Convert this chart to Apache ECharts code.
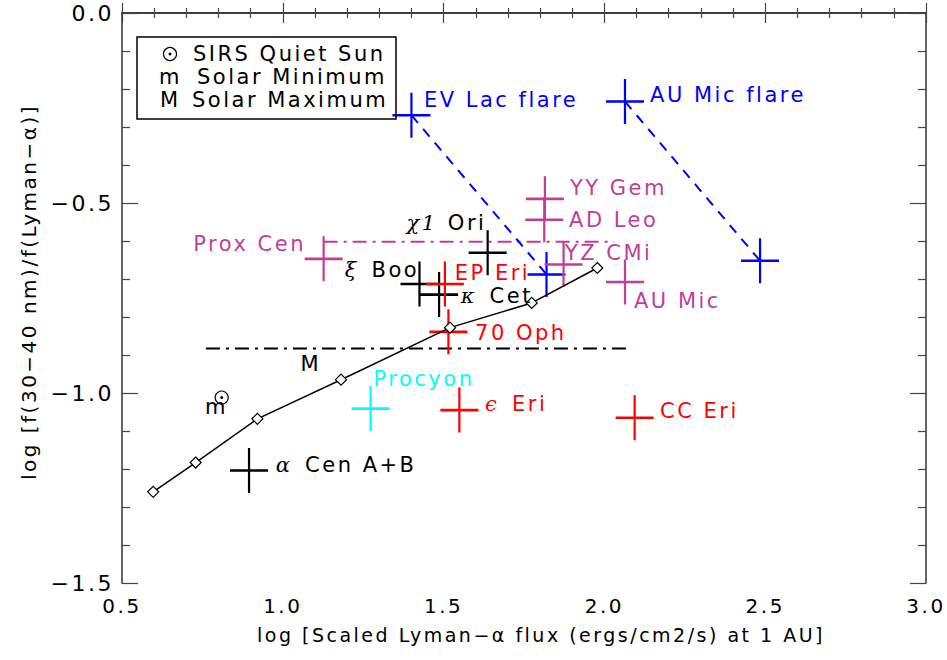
<!DOCTYPE html>
<html><head><meta charset="utf-8">
<script src="https://cdn.jsdelivr.net/npm/echarts@6/dist/echarts.min.js"></script>
<style>
html,body{margin:0;padding:0;background:#fff;}
#c{width:947px;height:660px;}
#c text{letter-spacing:2.5px;}
</style></head><body><div id="c"></div>
<script>
// ---------------- data ----------------
const xTickValues = [0.5, 1.0, 1.5, 2.0, 2.5, 3.0];
const yTickValues = [-1.5, -1.0, -0.5, 0.0];

// flare -> quiescent pairs (blue)
const flareX = [1.400, 2.064];
const flareY = [-0.269, -0.233];
const quietX = [1.820, 2.484];
const quietY = [-0.688, -0.652];

// stars by colour group
const magentaX = [1.815, 1.813, 1.873, 2.064, 1.127];
const magentaY = [-0.489, -0.544, -0.662, -0.708, -0.647];
const blackX = [1.637, 1.425, 1.486, 0.895];
const blackY = [-0.631, -0.713, -0.741, -1.204];
const redX = [1.504, 1.515, 1.549, 2.094];
const redY = [-0.713, -0.839, -1.045, -1.065];
const cyanX = [1.273];
const cyanY = [-1.041];

// solar model curve
const modelX = [0.597, 0.729, 0.921, 1.181, 1.520, 1.774, 1.978];
const modelY = [-1.260, -1.183, -1.068, -0.965, -0.828, -0.763, -0.671];

// reference lines
const proxLineX = [1.127, 2.030];
const proxLineY = [-0.602, -0.602];
const solarMaxX = [0.761, 2.086];
const solarMaxY = [-0.883, -0.883];

// quiet sun (SIRS)
const sunX = [0.810];
const sunY = [-1.012];

// annotations
const labelText = ['EV Lac flare','AU Mic flare','YY Gem','AD Leo','YZ CMi','AU Mic','Prox Cen','ξ Boo','χ1 Ori','EP Eri','κ Cet','70 Oph','Procyon','ϵ Eri','CC Eri','α Cen A+B','M','m'];
const labelX = [1.439, 2.142, 1.893, 1.890, 1.877, 2.092, 1.072, 1.193, 1.385, 1.535, 1.553, 1.598, 1.282, 1.629, 2.173, 0.978, 1.087, 0.794];
const labelY = [-0.228, -0.215, -0.460, -0.545, -0.631, -0.758, -0.609, -0.677, -0.552, -0.684, -0.745, -0.841, -0.964, -1.030, -1.048, -1.190, -0.923, -1.038];
const labelGroup = ['blue','blue','magenta','magenta','magenta','magenta','magenta','black','black','red','black','red','cyan','red','red','black','black','black'];
const labelSide = ['right','right','right','right','right','right','left','right','right','right','right','right','right','right','right','right','inside','inside'];

// ---------------- styles ----------------
const COL = {blue:'#0000ff', magenta:'#bf3f98', black:'#000000', red:'#ff0000', cyan:'#00ffff'};
const FONT = 'DejaVu Sans';
const CROSS = 'path://M19,0L19,45M0,22.5L38,22.5';
const zip = (a, b) => a.map((v, i) => [v, b[i]]);
const fmt = v => v.toFixed(1).replace('-', '\u2212');

function crossSeries(xs, ys, color) {
  return {
    type: 'scatter', data: zip(xs, ys), symbol: CROSS, symbolSize: [38, 45],
    itemStyle: {color: 'transparent', borderColor: color, borderWidth: 2.4, opacity: 1},
    z: 3, silent: true
  };
}
function richText(t) {
  const sp = t.indexOf(' ');
  const first = sp > 0 ? t.slice(0, sp) : t;
  if (/[α-ωϵ]/.test(first)) return '{g|' + first + '}' + t.slice(sp);
  return t;
}

const labelData = labelText.map((t, i) => ({
  value: [labelX[i], labelY[i]],
  label: {
    show: true, position: labelSide[i], distance: 0,
    formatter: richText(t), color: COL[labelGroup[i]],
    fontFamily: FONT, fontSize: 21,
    rich: {g: {fontFamily: 'DejaVu Serif', fontStyle: 'italic', fontSize: 21,
      color: COL[labelGroup[i]], padding: [0, 6, 0, 0]}}
  }
}));

const axisCommon = {
  type: 'value', min: 0.5, max: 3.0, interval: 0.5,
  axisLine: {show: true, lineStyle: {color: '#333', width: 1.5}},
  axisTick: {show: true, inside: true, length: 10, lineStyle: {color: '#444', width: 1.2}},
  minorTick: {show: true, splitNumber: 5, length: 5, lineStyle: {color: '#444', width: 1.2}},
  splitLine: {show: false}
};
const yCommon = {
  type: 'value', min: -1.5, max: 0.0, interval: 0.5,
  axisLine: {show: true, lineStyle: {color: '#333', width: 1.5}},
  axisTick: {show: true, inside: true, length: 16, lineStyle: {color: '#444', width: 1.2}},
  minorTick: {show: true, splitNumber: 5, length: 8, lineStyle: {color: '#444', width: 1.2}},
  splitLine: {show: false}
};

const chart = echarts.init(document.getElementById('c'), null, {renderer: 'svg'});
chart.setOption({
  animation: false,
  backgroundColor: '#fff',
  grid: {left: 122, top: 13, right: 21, bottom: 77, containLabel: false},
  xAxis: [
    Object.assign({}, axisCommon, {
      position: 'bottom',
      axisLabel: {show: true, margin: 13, color: '#000', fontFamily: FONT, fontSize: 20,
        formatter: v => xTickValues.some(t => Math.abs(t - v) < 1e-9) ? fmt(v) : ''},
      name: 'log [Scaled Lyman\u2212\u03b1 flux (ergs/cm2/s) at 1 AU]',
      nameLocation: 'middle', nameGap: 42,
      nameTextStyle: {color: '#000', fontFamily: FONT, fontSize: 19, padding: [0, 0, 0, 34]}
    }),
    Object.assign({}, axisCommon, {position: 'top', axisLabel: {show: false}})
  ],
  yAxis: [
    Object.assign({}, yCommon, {
      position: 'left',
      axisLabel: {show: true, margin: 8, color: '#000', fontFamily: FONT, fontSize: 22,
        formatter: v => yTickValues.some(t => Math.abs(t - v) < 1e-9) ? fmt(v) : ''},
      name: 'log [f(30\u221240 nm)/f(Lyman\u2212\u03b1)]',
      nameLocation: 'middle', nameGap: 83,
      nameTextStyle: {color: '#000', fontFamily: FONT, fontSize: 20, padding: [0, 0, 0, 12]}
    }),
    Object.assign({}, yCommon, {position: 'right', axisLabel: {show: false}})
  ],
  graphic: [
    {type: 'rect', shape: {x: 137, y: 37, width: 259, height: 82},
      style: {fill: 'none', stroke: '#000', lineWidth: 1.5}, z: 10},
    {type: 'circle', shape: {cx: 170, cy: 54, r: 6.5}, style: {fill: 'none', stroke: '#000', lineWidth: 1.2}, z: 10},
    {type: 'circle', shape: {cx: 170, cy: 54, r: 1.5}, style: {fill: '#000'}, z: 10},
    {type: 'text', x: 193, y: 54, style: {text: 'SIRS Quiet Sun', font: '21px DejaVu Sans', fill: '#000', verticalAlign: 'middle'}, z: 10},
    {type: 'text', x: 159, y: 77, style: {text: 'm', font: '21px DejaVu Sans', fill: '#000', verticalAlign: 'middle'}, z: 10},
    {type: 'text', x: 197, y: 77, style: {text: 'Solar Minimum', font: '21px DejaVu Sans', fill: '#000', verticalAlign: 'middle'}, z: 10},
    {type: 'text', x: 160, y: 100, style: {text: 'M', font: '21px DejaVu Sans', fill: '#000', verticalAlign: 'middle'}, z: 10},
    {type: 'text', x: 192, y: 100, style: {text: 'Solar Maximum', font: '21px DejaVu Sans', fill: '#000', verticalAlign: 'middle'}, z: 10}
  ],
  series: [
    {type: 'line', data: zip(solarMaxX, solarMaxY), symbol: 'none',
      lineStyle: {color: '#000', width: 2, type: [14, 6, 3, 6]}, z: 2, silent: true},
    {type: 'line', data: zip(proxLineX, proxLineY), symbol: 'none',
      lineStyle: {color: COL.magenta, width: 2, type: [14, 6, 3, 6]}, z: 2, silent: true},
    {type: 'line', data: [[flareX[0], flareY[0]], [quietX[0], quietY[0]]], symbol: 'none',
      lineStyle: {color: COL.blue, width: 2, type: [10, 8]}, z: 2, silent: true},
    {type: 'line', data: [[flareX[1], flareY[1]], [quietX[1], quietY[1]]], symbol: 'none',
      lineStyle: {color: COL.blue, width: 2, type: [10, 8]}, z: 2, silent: true},
    crossSeries(flareX.concat(quietX), flareY.concat(quietY), COL.blue),
    crossSeries(magentaX, magentaY, COL.magenta),
    crossSeries(blackX, blackY, COL.black),
    crossSeries(redX, redY, COL.red),
    crossSeries(cyanX, cyanY, COL.cyan),
    {type: 'line', data: zip(modelX, modelY), symbol: 'diamond', symbolSize: 11, showAllSymbol: true,
      lineStyle: {color: '#000', width: 1.5},
      itemStyle: {color: '#fff', borderColor: '#000', borderWidth: 1.2}, z: 4, silent: true},
    {type: 'scatter', data: zip(sunX, sunY), symbol: 'circle', symbolSize: 13,
      itemStyle: {color: 'transparent', borderColor: '#000', borderWidth: 1.2, opacity: 1}, z: 4, silent: true},
    {type: 'scatter', data: zip(sunX, sunY), symbol: 'circle', symbolSize: 3,
      itemStyle: {color: '#000', opacity: 1}, z: 4, silent: true},
    {type: 'scatter', data: labelData, symbolSize: 0, itemStyle: {opacity: 1}, z: 6, silent: true}
  ]
});
</script></body></html>
